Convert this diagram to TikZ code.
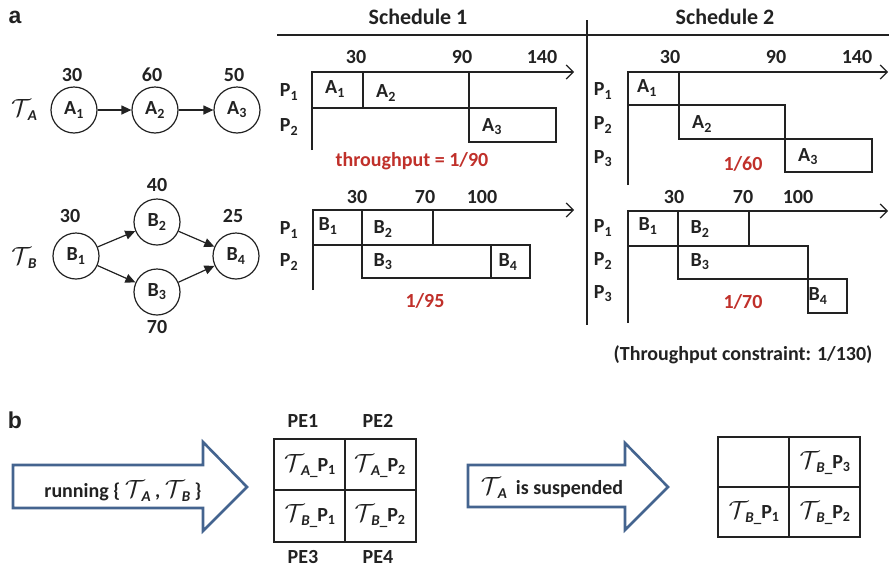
\documentclass[tikz,border=0pt]{standalone}
\usepackage{fontspec}
\setmainfont{Carlito}
\newfontfamily\panelfont{Liberation Sans}
\usetikzlibrary{arrows.meta}
\definecolor{redt}{HTML}{C0302A}
\definecolor{arrblue}{HTML}{44648F}
\definecolor{ink}{HTML}{222222}
\newcommand\cT[1]{{\fontsize{25}{25}\selectfont$\mathcal{T}$}\kern-3pt\raisebox{-4pt}{\fontsize{15}{15}\selectfont\itshape #1}}
\newcommand\cTs[1]{{\fontsize{24}{24}\selectfont$\mathcal{T}$}\kern-3pt\raisebox{-4pt}{\fontsize{15}{15}\selectfont{\itshape #1}\_}}
\begin{document}
\begin{tikzpicture}[x=1pt,y=-1pt,
  every node/.style={font=\bfseries\fontsize{20}{22}\selectfont, inner sep=0pt, text=ink},
  task/.style={circle, draw=ink, line width=1.2pt, minimum size=46pt},
  flow/.style={-{Triangle[length=10pt,width=9pt]}, line width=1.2pt, draw=ink},
  gbox/.style={draw=ink, line width=1.2pt},
  axis/.style={-{Straight Barb[length=7pt,width=14pt,line width=1.2pt]}, line width=1.2pt, draw=ink},
  red/.style={text=redt},
  title/.style={font=\bfseries\fontsize{22}{24}\selectfont},
  panel/.style={font=\panelfont\bfseries\fontsize{23}{23}\selectfont, text=ink},
  barrow/.style={draw=arrblue, line width=2.6pt, fill=white, line join=miter},
  grid/.style={draw=ink, line width=1.2pt}]
\useasboundingbox (0,0) rectangle (889,568);

% ---------------- panel a ----------------
\node[panel] (la) at (15,17) {a};
\node[title] (s1) at (418,17) {Schedule 1};
\node[title] (s2) at (725,17) {Schedule 2};
\draw[line width=1.2pt, ink] (277,35) -- (889,35);
\draw[line width=1.2pt, ink] (587,20) -- (587,325);

% task graphs
\node (TA) at (24,110) {\cT{A}};
\node (TB) at (24,258) {\cT{B}};
\node[task] (A1) at (74,110) {A\textsubscript{1}};
\node[task] (A2) at (155,110) {A\textsubscript{2}};
\node[task] (A3) at (237,110) {A\textsubscript{3}};
\node (wA1) at (72,75) {30};
\node (wA2) at (152,75) {60};
\node (wA3) at (234,75) {50};
\draw[flow] (A1) -- (A2);
\draw[flow] (A2) -- (A3);

\node[task] (B1) at (76,256) {B\textsubscript{1}};
\node[task] (B2) at (157,222) {B\textsubscript{2}};
\node[task] (B3) at (157,292) {B\textsubscript{3}};
\node[task] (B4) at (236,256) {B\textsubscript{4}};
\node (wB1) at (70,216) {30};
\node (wB2) at (157,185) {40};
\node (wB3) at (157,327) {70};
\node (wB4) at (233,216) {25};
\draw[flow] (B1) -- (B2);
\draw[flow] (B1) -- (B3);
\draw[flow] (B2) -- (B4);
\draw[flow] (B3) -- (B4);

% Schedule 1, graph A
\draw[axis] (312,150) -- (312,72) -- (574,72);
\node (t1a) at (356,57) {30};
\node (t1b) at (462,57) {90};
\node (t1c) at (542,57) {140};
\draw[gbox] (312,72) rectangle (363,108);
\draw[gbox] (363,72) rectangle (469,108);
\draw[gbox] (469,108) rectangle (556,142);
\node (p11) at (289,92) {P\textsubscript{1}};
\node (p12) at (289,127) {P\textsubscript{2}};
\node (g1a1) at (335,89) {A\textsubscript{1}};
\node (g1a2) at (386,93) {A\textsubscript{2}};
\node (g1a3) at (492,127) {A\textsubscript{3}};
\node[red] (thr1) at (412,161) {throughput = 1/90};

% Schedule 2, graph A
\draw[axis] (628,185) -- (628,72) -- (888,72);
\node (t2a) at (670,57) {30};
\node (t2b) at (776,57) {90};
\node (t2c) at (857,57) {140};
\draw[gbox] (628,72) rectangle (679,105);
\draw[gbox] (679,105) rectangle (785,139);
\draw[gbox] (785,139) rectangle (872,172);
\node (p21) at (603,91) {P\textsubscript{1}};
\node (p22) at (603,125) {P\textsubscript{2}};
\node (p23) at (603,159) {P\textsubscript{3}};
\node (g2a1) at (647,88) {A\textsubscript{1}};
\node (g2a2) at (702,124) {A\textsubscript{2}};
\node (g2a3) at (808,157) {A\textsubscript{3}};
\node[red] (thr2) at (743,164) {1/60};

% Schedule 1, graph B
\draw[axis] (313,290) -- (313,210) -- (574,210);
\node (t3a) at (357,197) {30};
\node (t3b) at (425,197) {70};
\node (t3c) at (482,197) {100};
\draw[gbox] (313,210) rectangle (362,245);
\draw[gbox] (362,210) rectangle (433,245);
\draw[gbox] (362,245) rectangle (491,278);
\draw[gbox] (491,245) rectangle (530,278);
\node (p31) at (289,230) {P\textsubscript{1}};
\node (p32) at (289,262) {P\textsubscript{2}};
\node (g1b1) at (328,226) {B\textsubscript{1}};
\node (g1b2) at (383,229) {B\textsubscript{2}};
\node (g1b3) at (383,262) {B\textsubscript{3}};
\node (g1b4) at (508,262) {B\textsubscript{4}};
\node[red] (thr3) at (425,301) {1/95};

% Schedule 2, graph B
\draw[axis] (628,323) -- (628,211) -- (888,211);
\node (t4a) at (674,197) {30};
\node (t4b) at (743,197) {70};
\node (t4c) at (798,197) {100};
\draw[gbox] (628,211) rectangle (678,246);
\draw[gbox] (678,211) rectangle (749,246);
\draw[gbox] (678,246) rectangle (808,279);
\draw[gbox] (808,279) rectangle (847,313);
\node (p41) at (603,228) {P\textsubscript{1}};
\node (p42) at (603,261) {P\textsubscript{2}};
\node (p43) at (603,294) {P\textsubscript{3}};
\node (g2b1) at (648,226) {B\textsubscript{1}};
\node (g2b2) at (700,229) {B\textsubscript{2}};
\node (g2b3) at (700,262) {B\textsubscript{3}};
\node (g2b4) at (818,296) {B\textsubscript{4}};
\node[red] (thr4) at (743,302) {1/70};
\node (cons) at (743,355) {(Throughput constraint: 1/130)};

% ---------------- panel b ----------------
\node[panel] (lb) at (15,420) {b};
\draw[barrow] (13,465) -- (203,465) -- (203,442) -- (247,487) -- (203,531) -- (203,508) -- (13,508) -- cycle;
\node (run) at (123,491) {running \{ \cT{A}\ , \cT{B}\ \}};

\draw[grid] (274,439) rectangle (416,542);
\draw[grid] (345,439) -- (345,542);
\draw[grid] (274,490) -- (416,490);
\node (pe1) at (303,421) {PE1};
\node (pe2) at (378,421) {PE2};
\node (pe3) at (303,557) {PE3};
\node (pe4) at (378,557) {PE4};
\node (c11) at (310,466) {\cTs{A}P\textsubscript{1}};
\node (c12) at (380,466) {\cTs{A}P\textsubscript{2}};
\node (c21) at (310,516) {\cTs{B}P\textsubscript{1}};
\node (c22) at (380,516) {\cTs{B}P\textsubscript{2}};

\draw[barrow] (468,465) -- (625,465) -- (625,443) -- (668,487) -- (625,530) -- (625,507) -- (468,507) -- cycle;
\node (susp) at (552,488) {\cT{A}\ \ is suspended};

\draw[grid] (718,437) rectangle (860,537);
\draw[grid] (789,437) -- (789,537);
\draw[grid] (718,487) -- (860,487);
\node (d12) at (825,463) {\cTs{B}P\textsubscript{3}};
\node (d21) at (754,513) {\cTs{B}P\textsubscript{1}};
\node (d22) at (825,513) {\cTs{B}P\textsubscript{2}};
\end{tikzpicture}
\end{document}
